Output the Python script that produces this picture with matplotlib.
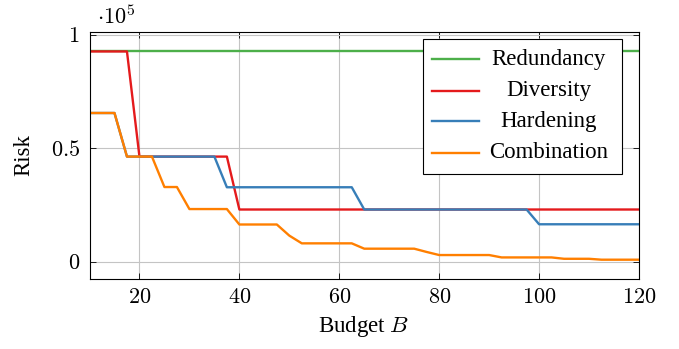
import matplotlib
matplotlib.use('Agg')
import matplotlib.pyplot as plt
from matplotlib.lines import Line2D
from matplotlib.patches import Rectangle
from matplotlib.ticker import FuncFormatter

plt.rcParams['font.family'] = ['Liberation Serif', 'DejaVu Serif']
plt.rcParams['mathtext.fontset'] = 'cm'

# Risk values in units of 1e5, read at the line vertices
redundancy_x = [10, 120]
redundancy_y = [0.926, 0.926]

diversity_x = [10, 17.5, 20, 37.5, 40, 120]
diversity_y = [0.926, 0.926, 0.463, 0.463, 0.230, 0.230]

hardening_x = [10, 15, 17.5, 35, 37.5, 62.5, 65, 97.5, 100, 120]
hardening_y = [0.655, 0.655, 0.463, 0.463, 0.328, 0.328, 0.230, 0.230, 0.165, 0.165]

combination_x = [10, 15, 17.5, 22.5, 25, 27.5, 30, 37.5, 40, 47.5, 50, 52.5,
                 62.5, 65, 75, 77.5, 80, 90, 92.5, 102.5, 105, 110, 112.5, 120]
combination_y = [0.655, 0.655, 0.463, 0.463, 0.329, 0.329, 0.232, 0.232, 0.164, 0.164, 0.115, 0.081,
                 0.081, 0.0575, 0.0575, 0.043, 0.0295, 0.0295, 0.019, 0.019, 0.013, 0.013, 0.009, 0.009]

series_names = ['Redundancy', 'Diversity', 'Hardening', 'Combination']
series_colors = ['#4daf4a', '#e41a1c', '#377eb8', '#ff7f00']
x_ticks = [20, 40, 60, 80, 100, 120]
y_ticks = [0, 0.5, 1]


def draw_legend(ax, names, colors):
    """pgfplots style legend: short line on the left, centred text."""
    ax.add_patch(Rectangle((0.607, 0.425), 0.362, 0.545, transform=ax.transAxes,
                           facecolor='white', edgecolor='black', lw=0.8, zorder=5))
    rows = [0.888, 0.761, 0.638, 0.511]
    for name, c, yy in zip(names, colors, rows):
        ax.add_line(Line2D([0.624, 0.709], [yy, yy], transform=ax.transAxes,
                           color=c, lw=1.7, zorder=6))
        ax.text(0.836, yy, name, transform=ax.transAxes, ha='center', va='center',
                fontsize=16.5, zorder=6)


fig = plt.figure(figsize=(6.79, 3.49), dpi=100)
ax = fig.add_axes([89.5 / 679, 70 / 349, 549.5 / 679, 247.3 / 349])

xs = [redundancy_x, diversity_x, hardening_x, combination_x]
ys = [redundancy_y, diversity_y, hardening_y, combination_y]
for x, y, c, n in zip(xs, ys, series_colors, series_names):
    ax.plot(x, y, color=c, lw=1.7, label=n)

ax.set_xlim(10, 120)
ax.set_ylim(-0.076, 1.013)
ax.set_xticks(x_ticks)
ax.set_yticks(y_ticks)
ax.xaxis.set_major_formatter(FuncFormatter(lambda v, p: f'${v:g}$'))
ax.yaxis.set_major_formatter(FuncFormatter(lambda v, p: f'${v:g}$'))
ax.tick_params(direction='in', length=4, width=0.6, labelsize=16, top=True, right=True, pad=7)
ax.grid(True, color='#c4c4c4', lw=0.8)
ax.set_axisbelow(True)
for s in ax.spines.values():
    s.set_linewidth(0.8)

ax.set_xlabel('Budget $B$', fontsize=16.5, va='center')
ax.xaxis.set_label_coords(0.498, -0.194)
ax.set_ylabel('Risk', fontsize=16.5, va='center')
ax.yaxis.set_label_coords(-0.12, 0.5)

fig.text(97 / 679, 1 - 24 / 349, r'$\cdot 10^{5}$', fontsize=16, ha='left', va='baseline')

draw_legend(ax, series_names, series_colors)

fig.savefig('out.png', dpi=100)
